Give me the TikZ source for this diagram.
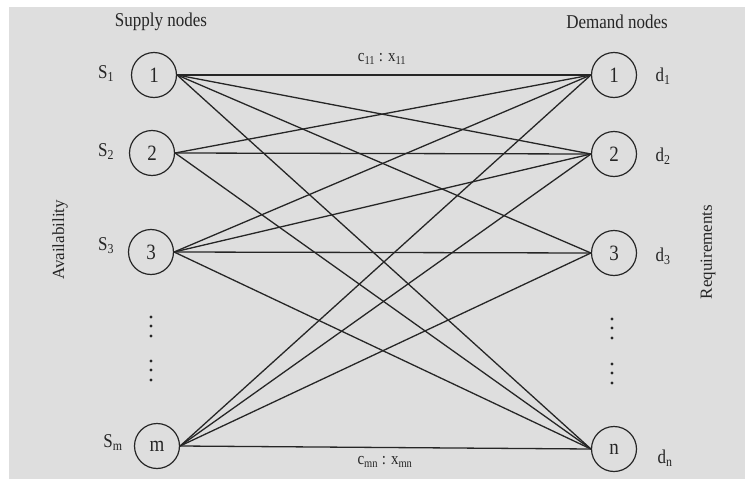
\documentclass[tikz,border=0pt]{standalone}
\usepackage{fontspec}
\setmainfont{Liberation Serif}
\usepackage{graphicx}
\definecolor{ink}{HTML}{262626}
\definecolor{paper}{HTML}{DEDEDE}
\newcommand\tallt[1]{\scalebox{1}[1.15]{#1}}
\tikzset{
  tnode/.style={circle, draw=ink, line width=1.2pt, minimum size=45pt, inner sep=0pt,
    font=\fontsize{19}{19}\selectfont, text=ink},
  lbl/.style={inner sep=0pt, text=ink, font=\fontsize{17}{17}\selectfont},
  head/.style={inner sep=0pt, text=ink, font=\fontsize{17}{17}\selectfont},
  cost/.style={inner sep=0pt, text=ink, font=\fontsize{15}{15}\selectfont},
  side/.style={inner sep=0pt, text=ink, font=\fontsize{17}{17}\selectfont, rotate=90},
  link/.style={draw=ink, line width=1.3pt},
  dot/.style={fill=ink}
}
\begin{document}
\begin{tikzpicture}[x=1pt, y=-1pt]
  \useasboundingbox (0,0) rectangle (745,479);
  \fill[white] (0,0) rectangle (745,479);
  \fill[paper] (9,7) rectangle (745,479);

  % headers
  \node[head] (hs) at (161,22) {\tallt{Supply nodes}};
  \node[head] (hd) at (617,22) {\tallt{Demand nodes}};

  % supply nodes
  \node[tnode] (s1) at (154,75)  {\tallt{1}};
  \node[tnode] (s2) at (152,153) {\tallt{2}};
  \node[tnode] (s3) at (151,252) {\tallt{3}};
  \node[tnode] (sm) at (157,446) {\tallt{m}};

  % demand nodes
  \node[tnode] (d1) at (614,75)  {\tallt{1}};
  \node[tnode] (d2) at (614,154) {\tallt{2}};
  \node[tnode] (d3) at (614,253) {\tallt{3}};
  \node[tnode] (dn) at (614,449) {\tallt{n}};

  % availabilities
  \node[lbl] (a1) at (106,74)  {\tallt{S\textsubscript{1}}};
  \node[lbl] (a2) at (106,152) {\tallt{S\textsubscript{2}}};
  \node[lbl] (a3) at (106,246) {\tallt{S\textsubscript{3}}};
  \node[lbl] (am) at (113,443) {\tallt{S\textsubscript{m}}};

  % requirements
  \node[lbl] (r1) at (663,76)  {\tallt{d\textsubscript{1}}};
  \node[lbl] (r2) at (663,156) {\tallt{d\textsubscript{2}}};
  \node[lbl] (r3) at (663,256) {\tallt{d\textsubscript{3}}};
  \node[lbl] (rn) at (665,458) {\tallt{d\textsubscript{n}}};

  % side captions
  \node[side] (av) at (60,240)  {Availability};
  \node[side] (rq) at (708,252) {Requirements};

  % transportation links
  \foreach \s/\d in {s1/d1, s1/d2, s1/d3, s1/dn,
                     s2/d1, s2/d2, s2/dn,
                     s3/d1, s3/d2, s3/d3, s3/dn,
                     sm/d1, sm/d2, sm/d3, sm/dn}
    \draw[link] (\s.east) -- (\d.west);

  % cost / flow labels
  \node[cost] (c11) at (382,59)  {\tallt{c\textsubscript{11} : x\textsubscript{11}}};
  \node[cost] (cmn) at (385,462) {\tallt{c\textsubscript{mn} : x\textsubscript{mn}}};

  % vertical ellipses
  \foreach \y in {317,326,336,361,370,380}
    \fill[dot] (151,\y) circle (1.7);
  \foreach \y in {319,328,338,364,373,383}
    \fill[dot] (612,\y) circle (1.7);
\end{tikzpicture}
\end{document}
